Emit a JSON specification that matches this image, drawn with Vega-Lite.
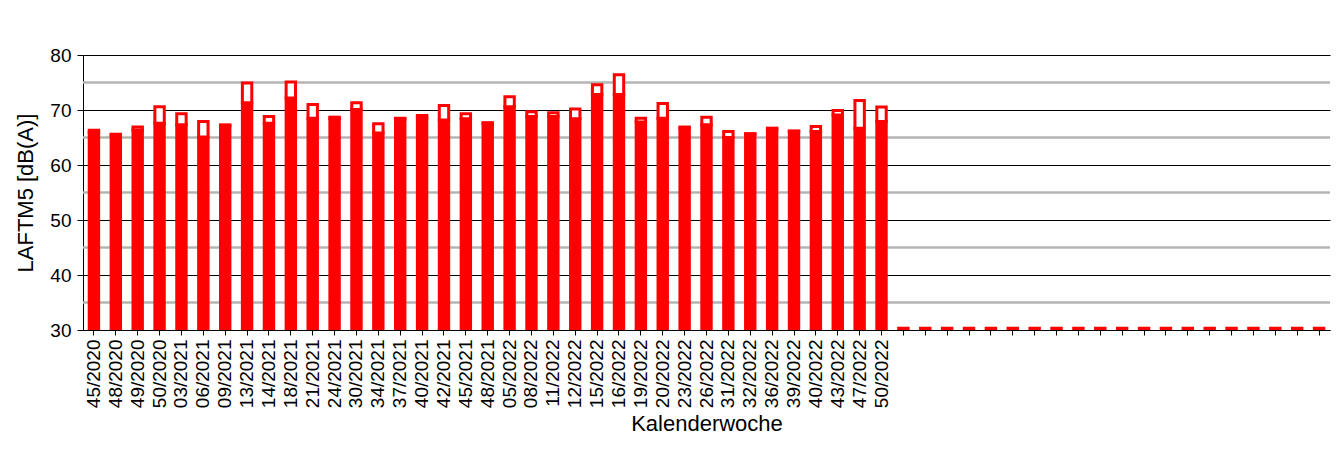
{
  "$schema": "https://vega.github.io/schema/vega-lite/v6.json",
  "autosize": {"type": "none"},
  "width": 1247,
  "height": 275,
  "padding": {"left": 83, "top": 55, "right": 8, "bottom": 120},
  "background": "white",
  "config": {
    "font": "Liberation Sans",
    "view": {"stroke": null}
  },
  "datasets": {
    "bars": [
      {"kw": "45/2020", "mw": 65.9, "top": 66.3},
      {"kw": "48/2020", "mw": 65.4, "top": 65.6},
      {"kw": "49/2020", "mw": 66.3, "top": 66.9},
      {"kw": "50/2020", "mw": 67.6, "top": 70.6},
      {"kw": "03/2021", "mw": 67.3, "top": 69.3},
      {"kw": "06/2021", "mw": 65.1, "top": 67.9},
      {"kw": "09/2021", "mw": 67.1, "top": 67.3},
      {"kw": "13/2021", "mw": 71.3, "top": 74.9},
      {"kw": "14/2021", "mw": 67.6, "top": 68.8},
      {"kw": "18/2021", "mw": 72.2, "top": 75.1},
      {"kw": "21/2021", "mw": 68.5, "top": 71.0},
      {"kw": "24/2021", "mw": 68.4, "top": 68.7},
      {"kw": "30/2021", "mw": 70.1, "top": 71.3},
      {"kw": "34/2021", "mw": 65.8, "top": 67.5},
      {"kw": "37/2021", "mw": 68.3, "top": 68.5},
      {"kw": "40/2021", "mw": 68.6, "top": 69.0},
      {"kw": "42/2021", "mw": 68.2, "top": 70.8},
      {"kw": "45/2021", "mw": 68.4, "top": 69.3},
      {"kw": "48/2021", "mw": 67.5, "top": 67.7},
      {"kw": "05/2022", "mw": 70.6, "top": 72.4},
      {"kw": "08/2022", "mw": 68.8, "top": 69.7},
      {"kw": "11/2022", "mw": 68.8, "top": 69.5},
      {"kw": "12/2022", "mw": 68.4, "top": 70.2},
      {"kw": "15/2022", "mw": 72.8, "top": 74.6},
      {"kw": "16/2022", "mw": 72.8, "top": 76.4},
      {"kw": "19/2022", "mw": 67.8, "top": 68.5},
      {"kw": "20/2022", "mw": 68.5, "top": 71.2},
      {"kw": "23/2022", "mw": 66.7, "top": 66.9},
      {"kw": "26/2022", "mw": 67.3, "top": 68.7},
      {"kw": "31/2022", "mw": 65.0, "top": 66.1},
      {"kw": "32/2022", "mw": 65.6, "top": 65.7},
      {"kw": "36/2022", "mw": 66.5, "top": 66.7},
      {"kw": "39/2022", "mw": 66.1, "top": 66.2},
      {"kw": "40/2022", "mw": 66.1, "top": 67.0},
      {"kw": "43/2022", "mw": 69.1, "top": 69.9},
      {"kw": "47/2022", "mw": 66.7, "top": 71.75},
      {"kw": "50/2022", "mw": 67.9, "top": 70.55},
      {"kw": "_01", "mw": 30.3, "top": 30.3},
      {"kw": "_02", "mw": 30.3, "top": 30.3},
      {"kw": "_03", "mw": 30.3, "top": 30.3},
      {"kw": "_04", "mw": 30.3, "top": 30.3},
      {"kw": "_05", "mw": 30.3, "top": 30.3},
      {"kw": "_06", "mw": 30.3, "top": 30.3},
      {"kw": "_07", "mw": 30.3, "top": 30.3},
      {"kw": "_08", "mw": 30.3, "top": 30.3},
      {"kw": "_09", "mw": 30.3, "top": 30.3},
      {"kw": "_10", "mw": 30.3, "top": 30.3},
      {"kw": "_11", "mw": 30.3, "top": 30.3},
      {"kw": "_12", "mw": 30.3, "top": 30.3},
      {"kw": "_13", "mw": 30.3, "top": 30.3},
      {"kw": "_14", "mw": 30.3, "top": 30.3},
      {"kw": "_15", "mw": 30.3, "top": 30.3},
      {"kw": "_16", "mw": 30.3, "top": 30.3},
      {"kw": "_17", "mw": 30.3, "top": 30.3},
      {"kw": "_18", "mw": 30.3, "top": 30.3},
      {"kw": "_19", "mw": 30.3, "top": 30.3},
      {"kw": "_20", "mw": 30.3, "top": 30.3}
    ],
    "minor": [{"v": 35}, {"v": 45}, {"v": 55}, {"v": 65}, {"v": 75}]
  },
  "layer": [
    {
      "data": {"name": "minor"},
      "mark": {"type": "rule", "color": "#b4b4b4", "strokeWidth": 2.5},
      "encoding": {
        "y": {"field": "v", "type": "quantitative"}
      }
    },
    {
      "data": {"name": "bars"},
      "mark": {"type": "bar", "fill": "#ff0000", "stroke": "#ff0000", "strokeWidth": 3, "clip": true},
      "encoding": {
        "x": {
          "field": "kw",
          "type": "ordinal",
          "sort": null,
          "scale": {"paddingInner": 0.57, "paddingOuter": 0.285},
          "axis": {
            "title": "Kalenderwoche",
            "titleFontSize": 22,
            "titleFontWeight": "normal",
            "titleColor": "#000000",
            "titlePadding": 6,
            "labelExpr": "indexof(datum.value, '_') == 0 ? '' : datum.label",
            "labelAngle": -90,
            "labelAlign": "right",
            "labelBaseline": "middle",
            "labelFontSize": 19,
            "labelColor": "#000000",
            "labelPadding": 4,
            "labelOverlap": false,
            "tickSize": 5,
            "tickColor": "#000000",
            "domainColor": "#000000",
            "grid": false
          }
        },
        "y": {
          "field": "mw",
          "type": "quantitative",
          "scale": {"domain": [30, 80], "zero": false, "nice": false},
          "axis": {
            "title": "LAFTM5  [dB(A)]",
            "titleFontSize": 22,
            "titleFontWeight": "normal",
            "titleColor": "#000000",
            "titlePadding": 12,
            "values": [30, 40, 50, 60, 70, 80],
            "labelFontSize": 19,
            "labelColor": "#000000",
            "labelPadding": 6,
            "tickSize": 6,
            "tickColor": "#000000",
            "domainColor": "#000000",
            "grid": true,
            "gridColor": "#000000",
            "gridWidth": 1
          }
        }
      }
    },
    {
      "data": {"name": "bars"},
      "transform": [{"filter": "datum.top > datum.mw + 0.05"}],
      "mark": {
        "type": "bar",
        "stroke": "#ff0000",
        "strokeWidth": 3,
        "fill": "#ffffff",
        "clip": true
      },
      "encoding": {
        "x": {"field": "kw", "type": "ordinal", "sort": null},
        "y": {"field": "top", "type": "quantitative"},
        "y2": {"field": "mw"}
      }
    }
  ]
}
